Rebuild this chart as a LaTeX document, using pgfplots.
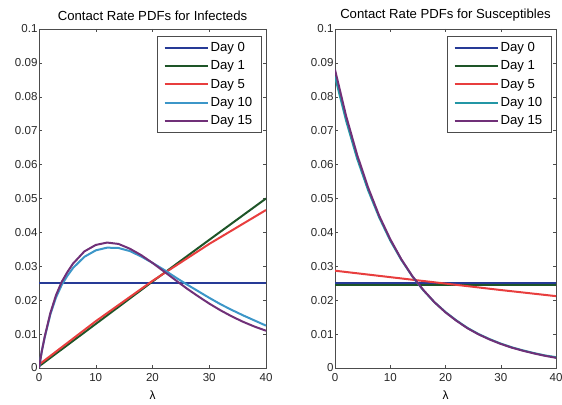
\documentclass[border=0pt]{standalone}
\usepackage{fontspec}
\setmainfont{Liberation Sans}
\usepackage{pgfplots}
\pgfplotsset{compat=1.18}
\definecolor{dayzero}{RGB}{38,58,150}
\definecolor{dayone}{RGB}{30,85,40}
\definecolor{dayfive}{RGB}{232,62,62}
\definecolor{dayten}{RGB}{60,150,200}
\definecolor{daytenb}{RGB}{35,150,165}
\definecolor{dayfifteen}{RGB}{112,48,120}
\pgfplotsset{
  mystyle/.style={
    scale only axis, height=339bp,
    xmin=0, xmax=40, ymin=0, ymax=0.1,
    xtick={0,10,20,30,40},
    ytick={0,0.01,0.02,0.03,0.04,0.05,0.06,0.07,0.08,0.09,0.1},
    yticklabels={0,0.01,0.02,0.03,0.04,0.05,0.06,0.07,0.08,0.09,0.1},
    xticklabels={0,10,20,30,40},
    tick align=inside, tick pos=both, major tick length=3bp,
    axis line style={black!70},
    tick style={black!70, line width=0.5pt},
    ticklabel style={font=\fontsize{11.6}{13}\selectfont, text=black!85},
    xticklabel style={yshift=-2bp},
    yticklabel style={xshift=2bp},
    title style={font=\fontsize{13.2}{15}\selectfont, yshift=-1.5bp},
    xlabel={λ}, xlabel style={font=\fontsize{12}{13}\selectfont, yshift=-2.5bp},
    legend style={font=\fontsize{13.2}{15}\selectfont, draw=black!70, at={(1,1)}, anchor=north east, xshift=-5bp, yshift=-7bp, row sep=3.6bp, inner xsep=6.5bp, inner ysep=4.5bp},
    legend cell align=left,
    legend image code/.code={\draw[#1, line width=2bp] (0bp,0bp) -- (43bp,0bp);},
  },
  ln/.style={color=#1, line width=2bp, mark=none},
}
\begin{document}
\begin{tikzpicture}
\useasboundingbox (-39bp,-37bp) rectangle (523bp,368bp);
\begin{axis}[mystyle, width=227bp, title={Contact Rate PDFs for Infecteds}]
\addplot[ln=dayzero] coordinates {(0,0.025) (20,0.025) (40,0.025)};
\addplot[ln=dayone] coordinates {(0,0.0005) (10,0.013) (20,0.0255) (30,0.0378) (40,0.0500)};
\addplot[ln=dayfive] coordinates {(0,0.001) (10,0.0138) (20,0.0257) (30,0.0366) (40,0.0466)};
\addplot[ln=dayten] coordinates {(0,0) (0.5,0.005) (1,0.009) (2,0.0158) (3,0.0208) (4,0.0245) (5,0.0272) (6,0.0295) (8,0.0328) (10,0.0347) (12,0.0355) (14,0.0354) (16,0.0345) (18,0.0329) (20,0.0310) (22,0.0290) (24,0.0268) (26,0.0247) (28,0.0227) (30,0.0207) (32,0.0188) (34,0.0171) (36,0.0155) (38,0.0140) (40,0.0125)};
\addplot[ln=dayfifteen] coordinates {(0,0) (0.5,0.005) (1,0.0092) (2,0.0162) (3,0.0215) (4,0.0254) (5,0.0283) (6,0.0308) (8,0.0344) (10,0.0363) (12,0.0370) (14,0.0366) (16,0.0352) (18,0.0333) (20,0.0310) (22,0.0285) (24,0.0260) (26,0.0235) (28,0.0212) (30,0.0190) (32,0.0170) (34,0.0152) (36,0.0136) (38,0.0122) (40,0.0110)};
\legend{Day 0, Day 1, Day 5, Day 10, Day 15}
\end{axis}
\begin{axis}[mystyle, width=221bp, at={(296bp,0)}, title={Contact Rate PDFs for Susceptibles}]
\addplot[ln=dayzero] coordinates {(0,0.0252) (20,0.0252) (40,0.0252)};
\addplot[ln=dayone] coordinates {(0,0.0246) (20,0.0246) (40,0.0246)};
\addplot[ln=dayfive] coordinates {(0,0.0287) (10,0.0268) (20,0.0249) (30,0.0230) (40,0.0212)};
\addplot[ln=daytenb] coordinates {(0,0.0860) (2,0.0730) (4,0.0618) (6,0.0524) (8,0.0444) (10,0.0376) (12,0.0319) (14,0.0270) (16,0.0229) (18,0.0194) (20,0.0165) (22,0.0140) (24,0.0118) (26,0.0100) (28,0.0085) (30,0.0072) (32,0.0061) (34,0.0052) (36,0.0044) (38,0.0037) (40,0.0032)};
\addplot[ln=dayfifteen] coordinates {(0,0.0880) (2,0.0744) (4,0.0629) (6,0.0532) (8,0.0449) (10,0.0380) (12,0.0321) (14,0.0271) (16,0.0230) (18,0.0194) (20,0.0164) (22,0.0139) (24,0.0117) (26,0.0099) (28,0.0084) (30,0.0071) (32,0.0060) (34,0.0051) (36,0.0043) (38,0.0036) (40,0.0030)};
\legend{Day 0, Day 1, Day 5, Day 10, Day 15}
\end{axis}
\end{tikzpicture}
\end{document}
